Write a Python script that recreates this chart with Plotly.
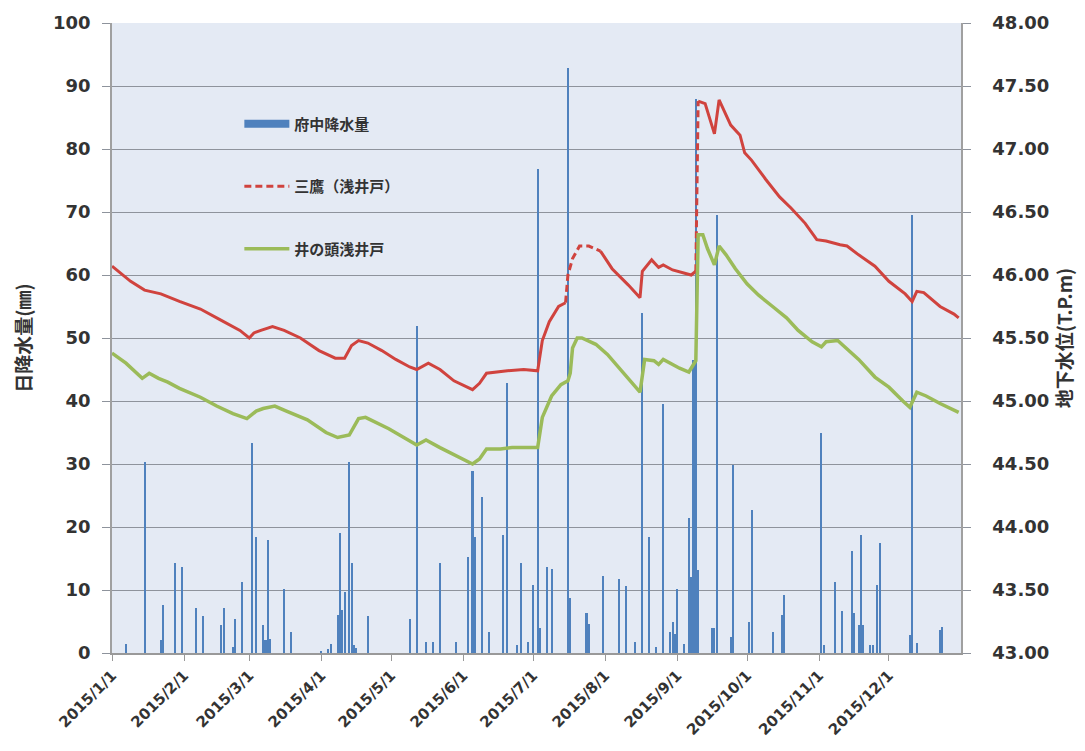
import plotly.graph_objects as go

# --- 府中 daily precipitation (mm) ---
rain_dates = [
    "2015-01-07", "2015-01-15", "2015-01-22", "2015-01-23", "2015-01-28", "2015-01-31",
    "2015-02-06", "2015-02-09", "2015-02-17", "2015-02-18", "2015-02-22", "2015-02-23", "2015-02-26",
    "2015-03-02", "2015-03-04", "2015-03-07", "2015-03-08", "2015-03-09", "2015-03-10", "2015-03-16", "2015-03-19",
    "2015-04-01", "2015-04-04", "2015-04-05", "2015-04-08", "2015-04-09", "2015-04-10", "2015-04-11",
    "2015-04-13", "2015-04-14", "2015-04-15", "2015-04-16", "2015-04-21",
    "2015-05-09", "2015-05-12", "2015-05-16", "2015-05-19", "2015-05-22", "2015-05-29",
    "2015-06-03", "2015-06-05", "2015-06-06", "2015-06-09", "2015-06-12", "2015-06-18", "2015-06-20",
    "2015-06-24", "2015-06-26", "2015-06-29",
    "2015-07-01", "2015-07-03", "2015-07-04", "2015-07-07", "2015-07-09", "2015-07-16", "2015-07-17",
    "2015-07-24", "2015-07-25", "2015-07-31",
    "2015-08-07", "2015-08-10", "2015-08-14", "2015-08-17", "2015-08-20", "2015-08-23", "2015-08-26",
    "2015-08-29", "2015-08-30", "2015-08-31",
    "2015-09-01", "2015-09-04", "2015-09-06", "2015-09-07", "2015-09-08", "2015-09-09", "2015-09-10",
    "2015-09-16", "2015-09-17", "2015-09-18", "2015-09-24", "2015-09-25",
    "2015-10-02", "2015-10-03", "2015-10-12", "2015-10-16", "2015-10-17",
    "2015-11-02", "2015-11-03", "2015-11-08", "2015-11-11", "2015-11-15", "2015-11-16", "2015-11-18",
    "2015-11-19", "2015-11-20", "2015-11-23", "2015-11-24", "2015-11-26", "2015-11-27",
    "2015-12-10", "2015-12-11", "2015-12-13", "2015-12-23", "2015-12-24",
]
rain_mm = [
    1.5, 30.3, 2.0, 7.6, 14.3, 13.7,
    7.2, 5.8, 4.5, 7.2, 1.0, 5.4, 11.3,
    33.4, 18.4, 4.5, 2.0, 17.9, 2.2, 10.1, 3.4,
    0.3, 0.6, 1.5, 6.0, 19.0, 6.8, 9.7,
    30.3, 14.3, 1.3, 0.8, 5.8,
    5.4, 51.9, 1.8, 1.8, 14.3, 1.8,
    15.3, 28.9, 18.4, 24.7, 3.3, 18.7, 42.9,
    1.3, 14.3, 1.8,
    10.8, 76.9, 3.9, 13.7, 13.3, 92.9, 8.7,
    6.4, 4.6, 12.3,
    11.7, 10.7, 1.8, 54.0, 18.4, 1.0, 39.6,
    3.4, 4.9, 3.0,
    10.1, 1.5, 21.5, 12.0, 46.5, 87.9, 13.2,
    4.0, 4.0, 69.5, 2.5, 29.8,
    4.9, 22.7, 3.4, 6.1, 9.2,
    35.0, 1.3, 11.3, 6.6, 16.2, 6.3, 4.5,
    18.7, 4.5, 1.3, 1.3, 10.8, 17.4,
    2.9, 69.5, 1.6, 3.7, 4.2,
]

# --- 三鷹(浅井戸) groundwater level (T.P.m) ---
mitaka_dates = [
    "2015-01-01", "2015-01-09", "2015-01-15", "2015-01-22", "2015-01-30", "2015-02-08", "2015-02-16",
    "2015-02-25", "2015-03-01", "2015-03-03", "2015-03-06", "2015-03-11", "2015-03-16", "2015-03-23",
    "2015-03-31", "2015-04-07", "2015-04-11", "2015-04-14", "2015-04-17", "2015-04-21", "2015-04-27",
    "2015-05-03", "2015-05-09", "2015-05-12", "2015-05-17", "2015-05-22", "2015-05-28", "2015-06-05",
    "2015-06-08", "2015-06-11", "2015-06-20", "2015-06-27", "2015-07-03", "2015-07-05", "2015-07-08",
    "2015-07-12", "2015-07-15", "2015-07-16", "2015-07-18", "2015-07-21", "2015-07-25", "2015-07-30",
    "2015-08-04", "2015-08-11", "2015-08-16", "2015-08-17", "2015-08-21", "2015-08-24", "2015-08-26",
    "2015-08-30", "2015-09-07", "2015-09-09", "2015-09-10", "2015-09-13", "2015-09-17", "2015-09-19",
    "2015-09-24", "2015-09-28", "2015-09-30", "2015-10-03", "2015-10-09", "2015-10-15", "2015-10-20",
    "2015-10-26", "2015-10-31", "2015-11-04", "2015-11-10", "2015-11-13", "2015-11-18", "2015-11-25",
    "2015-12-01", "2015-12-08", "2015-12-11", "2015-12-13", "2015-12-16", "2015-12-23", "2015-12-29",
    "2015-12-31",
]
mitaka_level = [
    46.07, 45.95, 45.88, 45.85, 45.79, 45.73, 45.65,
    45.56, 45.50, 45.54, 45.56, 45.59, 45.56, 45.50,
    45.40, 45.34, 45.34, 45.44, 45.48, 45.46, 45.40,
    45.33, 45.27, 45.25, 45.30, 45.25, 45.16, 45.09,
    45.14, 45.22, 45.24, 45.25, 45.24, 45.48, 45.63,
    45.75, 45.78, 46.00, 46.13, 46.23, 46.23, 46.19,
    46.05, 45.92, 45.82, 46.03, 46.12, 46.06, 46.08,
    46.04, 46.00, 46.03, 47.38, 47.36, 47.12, 47.39,
    47.19, 47.11, 46.97, 46.91, 46.76, 46.62, 46.53,
    46.41, 46.28, 46.27, 46.24, 46.23, 46.16, 46.07,
    45.95, 45.85, 45.79, 45.87, 45.86, 45.75, 45.69,
    45.66,
]
# spans where the record is not continuous (joined with a dashed segment)
mitaka_gaps = [("2015-07-15", "2015-07-30"), ("2015-09-09", "2015-09-10")]

# --- 井の頭浅井戸 groundwater level (T.P.m) ---
inokashira_dates = [
    "2015-01-01", "2015-01-07", "2015-01-14", "2015-01-17", "2015-01-21", "2015-01-25", "2015-01-30",
    "2015-02-08", "2015-02-15", "2015-02-22", "2015-02-28", "2015-03-04", "2015-03-07", "2015-03-12",
    "2015-03-17", "2015-03-26", "2015-04-03", "2015-04-08", "2015-04-13", "2015-04-17", "2015-04-20",
    "2015-04-30", "2015-05-12", "2015-05-16", "2015-05-22", "2015-06-05", "2015-06-08", "2015-06-11",
    "2015-06-17", "2015-06-22", "2015-07-03", "2015-07-05", "2015-07-09", "2015-07-13", "2015-07-16",
    "2015-07-17", "2015-07-18", "2015-07-20", "2015-07-22", "2015-07-28", "2015-08-02", "2015-08-11",
    "2015-08-16", "2015-08-18", "2015-08-22", "2015-08-24", "2015-08-26", "2015-09-02", "2015-09-06",
    "2015-09-09", "2015-09-10", "2015-09-12", "2015-09-14", "2015-09-17", "2015-09-19", "2015-09-22",
    "2015-09-26", "2015-10-01", "2015-10-06", "2015-10-12", "2015-10-18", "2015-10-23", "2015-10-29",
    "2015-11-02", "2015-11-04", "2015-11-09", "2015-11-14", "2015-11-18", "2015-11-25", "2015-12-01",
    "2015-12-07", "2015-12-10", "2015-12-13", "2015-12-17", "2015-12-23", "2015-12-28", "2015-12-31",
]
inokashira_level = [
    45.38, 45.30, 45.18, 45.22, 45.18, 45.15, 45.10,
    45.03, 44.96, 44.90, 44.86, 44.92, 44.94, 44.96,
    44.92, 44.85, 44.75, 44.71, 44.73, 44.86, 44.87,
    44.78, 44.65, 44.69, 44.63, 44.50, 44.54, 44.62,
    44.62, 44.63, 44.63, 44.87, 45.04, 45.13, 45.16,
    45.22, 45.42, 45.50, 45.50, 45.45, 45.37, 45.18,
    45.07, 45.33, 45.32, 45.29, 45.33, 45.26, 45.23,
    45.32, 46.32, 46.32, 46.21, 46.08, 46.23, 46.16,
    46.05, 45.93, 45.84, 45.75, 45.66, 45.56, 45.47,
    45.43, 45.47, 45.48, 45.40, 45.33, 45.19, 45.11,
    45.00, 44.95, 45.07, 45.04, 44.98, 44.94, 44.91,
]

# axis tick labels
month_ticks = ["2015-%02d-01" % m for m in range(1, 13)]
month_labels = ["2015/%d/1" % m for m in range(1, 13)]

BLUE = "#4F81BD"
RED = "#D0433E"
GREEN = "#9BBB59"
TEXT = "#333333"
GRID = "#8E939C"


def split_segments(dates, values, gaps):
    """Split a polyline into continuous (solid) and gap-bridging (dashed) parts."""
    solid_x, solid_y, dash_x, dash_y = [], [], [], []
    for i in range(len(dates) - 1):
        d0, d1 = dates[i], dates[i + 1]
        bridged = any(g0 <= d0 and d1 <= g1 for g0, g1 in gaps)
        tx, ty = (dash_x, dash_y) if bridged else (solid_x, solid_y)
        if tx and tx[-1] == d0:
            tx.append(d1)
            ty.append(values[i + 1])
        else:
            if tx:
                tx.append(None)
                ty.append(None)
            tx += [d0, d1]
            ty += [values[i], values[i + 1]]
    return solid_x, solid_y, dash_x, dash_y


red_sx, red_sy, red_dx, red_dy = split_segments(mitaka_dates, mitaka_level, mitaka_gaps)

fig = go.Figure()

fig.add_trace(go.Bar(
    x=rain_dates, y=rain_mm, yaxis="y",
    marker=dict(color=BLUE, line=dict(width=0)),
    width=86400000 * 0.9,
    showlegend=False, legendgroup="a",
))
# legend key for the precipitation bars
fig.add_trace(go.Scatter(
    x=[None], y=[None], mode="lines", name="府中降水量",
    line=dict(color=BLUE, width=8), legendgroup="a",
))

fig.add_trace(go.Scatter(
    x=red_sx, y=red_sy, yaxis="y2", mode="lines",
    line=dict(color=RED, width=3), showlegend=False, legendgroup="b",
))
fig.add_trace(go.Scatter(
    x=red_dx, y=red_dy, yaxis="y2", mode="lines", name="三鷹（浅井戸）",
    line=dict(color=RED, width=3, dash="7px,4px"), legendgroup="b",
))
fig.add_trace(go.Scatter(
    x=inokashira_dates, y=inokashira_level, yaxis="y2", mode="lines", name="井の頭浅井戸",
    line=dict(color=GREEN, width=3.5), legendgroup="c",
))

tick_font = dict(family="DejaVu Sans", size=18, color=TEXT, weight="bold")
cjk = "Noto Sans CJK JP"

fig.update_layout(
    width=1085, height=751,
    margin=dict(l=112, r=123, t=20, b=97),
    paper_bgcolor="white",
    plot_bgcolor="#E4EAF4",
    bargap=0,
    xaxis=dict(
        type="date",
        range=["2015-01-01", "2016-01-01"],
        tickvals=month_ticks, ticktext=month_labels,
        tickangle=-45,
        tickfont=dict(family="DejaVu Sans", size=15, color=TEXT, weight="bold"),
        ticks="outside", ticklen=6, tickcolor="#999999",
        showgrid=False, showline=True, linecolor="#999999", linewidth=1.5,
        zeroline=False,
    ),
    yaxis=dict(
        range=[0, 100], dtick=10,
        tickfont=tick_font,
        ticks="outside", ticklen=8, tickcolor=GRID, ticklabelstandoff=8,
        showgrid=True, gridcolor=GRID, gridwidth=1.3,
        showline=True, linecolor="#A0A0A0", linewidth=1.5,
        zeroline=False,
        title=dict(text="日降水量(㎜)", font=dict(family=cjk, size=19, color=TEXT, weight="bold"),
                   standoff=16),
    ),
    yaxis2=dict(
        overlaying="y", side="right",
        range=[43, 48], dtick=0.5, tickformat=".2f",
        tickfont=tick_font,
        ticks="outside", ticklen=8, tickcolor=GRID, ticklabelstandoff=18,
        showgrid=False,
        showline=True, linecolor="#A0A0A0", linewidth=1.5,
        zeroline=False,
        title=dict(text="地下水位(T.P.m)", font=dict(family=cjk, size=19, color=TEXT, weight="bold"),
                   standoff=10),
    ),
    legend=dict(
        x=0.15, y=0.866, xanchor="left", yanchor="top",
        bgcolor="rgba(0,0,0,0)",
        font=dict(family=cjk, size=15, color=TEXT, weight="bold"),
        traceorder="grouped", tracegroupgap=40, itemwidth=45,
    ),
)

fig.write_html("out.html")
